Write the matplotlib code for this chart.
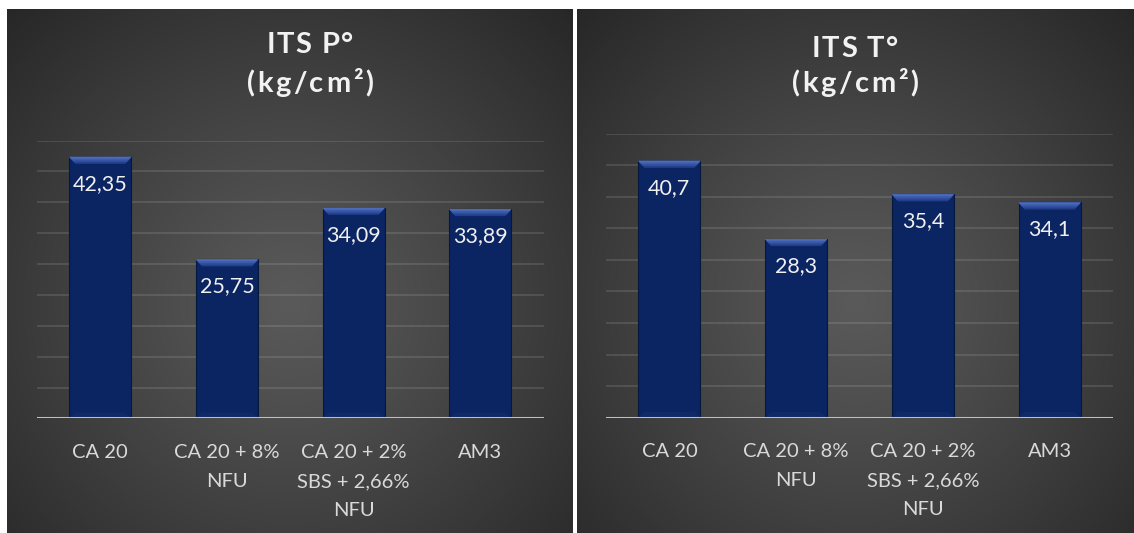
import numpy as np
import matplotlib
matplotlib.use("Agg")
import matplotlib.pyplot as plt
from matplotlib.patches import Polygon
from matplotlib.colors import to_rgb

# data
categories = ["CA 20", "CA 20 + 8%\nNFU", "CA 20 + 2%\nSBS + 2,66%\nNFU", "AM3"]
its_p = [42.35, 25.75, 34.09, 33.89]
its_t = [40.7, 28.3, 35.4, 34.1]
titles = [("ITS P°", "(kg/cm²)"), ("ITS T°", "(kg/cm²)")]

W, H = 1134, 533
FONT = "Lato"
plt.rcParams['font.family'] = [FONT, 'DejaVu Sans']

fig = plt.figure(figsize=(W / 100, H / 100), dpi=100, facecolor="white")


def px_box(x0, y0, x1, y1):
    # pixel box (top-left origin) -> figure fraction rect
    return [x0 / W, (H - y1) / H, (x1 - x0) / W, (y1 - y0) / H]


def background(x0, x1):
    bg = fig.add_axes(px_box(x0, 9, x1, H), zorder=-10)
    u = np.linspace(0, 1, 300)
    v = np.linspace(0, 1, 300)
    U, V = np.meshgrid(u, v)
    r = np.sqrt(((U - 0.5) / 0.72) ** 2 + ((V - 0.56) / 0.78) ** 2)
    r = np.clip(r, 0, 1) ** 1.1
    c0 = np.array(to_rgb("#5a5a5a"))
    c1 = np.array(to_rgb("#272727"))
    img = c0[None, None, :] * (1 - r[..., None]) + c1[None, None, :] * r[..., None]
    bg.imshow(img, aspect="auto", extent=(0, 1, 0, 1))
    bg.axis("off")


def tracked_text(cx, baseline, s, track, **kw):
    r = fig.canvas.get_renderer()

    def w(txt):
        t = fig.text(0, 0, txt, **kw)
        bb = t.get_window_extent(renderer=r)
        t.remove()
        return bb.width

    base = w("||")
    widths = [w("|" + ch + "|") - base for ch in s]
    total = sum(widths) + track * (len(s) - 1)
    x = cx - total / 2
    for ch, cw in zip(s, widths):
        fig.text(x / W, (H - baseline) / H, ch, ha="left", va="baseline", **kw)
        x += cw + track


def panel(box, values, title, title_x, title_base):
    x0, y0, x1, y1 = box
    ax = fig.add_axes(px_box(x0, y0, x1, y1))
    ax.set_facecolor("none")
    xs = np.arange(len(values))
    bars = ax.bar(xs, values, width=0.49, color="#0b2462", edgecolor="#07183f",
                  linewidth=0.8, zorder=3)
    ax.set_xlim(-0.5, len(values) - 0.5)
    ax.set_ylim(0, 45)
    ax.set_yticks(np.arange(0, 46, 5))
    ax.yaxis.grid(True, color="white", alpha=0.13, lw=1.2)
    ax.set_axisbelow(True)
    for s in ax.spines.values():
        s.set_visible(False)
    ax.tick_params(axis="y", length=0, labelleft=False)
    ax.axhline(0, color="#bfbfbf", lw=2.2, zorder=5)
    ax.set_xticks(xs)
    ax.set_xticklabels(categories, color="#d9d9d9", fontsize=14.5, linespacing=1.85)
    ax.tick_params(axis="x", length=0, pad=18.5)

    # bevel on top and bottom of bars
    ppx = 45 / (y1 - y0)
    ppx_x = len(values) / (x1 - x0)
    tops = ["#233f8c", "#2f4f9e", "#3d5cab", "#4c6bb8"]
    for b in bars:
        bx, bw, top = b.get_x(), b.get_width(), b.get_height()
        for k, col in enumerate(tops):
            f = 1 - k / len(tops)
            dy, dx = 7 * ppx * f, 6 * ppx_x * f
            ax.add_patch(Polygon([(bx, top), (bx + bw, top), (bx + bw - dx, top - dy), (bx + dx, top - dy)],
                                 closed=True, facecolor=col, edgecolor="none", zorder=4))
        dy, dx = 6 * ppx, 6 * ppx_x
        ax.add_patch(Polygon([(bx, 0), (bx + bw, 0), (bx + bw - dx, dy), (bx + dx, dy)],
                             closed=True, facecolor="#0e2a68", edgecolor="none", zorder=4))

    for xi, v in zip(xs, values):
        ax.annotate(str(v).replace(".", ","), (xi, v), xytext=(0, -27 * 0.72),
                    textcoords="offset points", ha="center", va="center",
                    color="#f0f0f0", fontsize=15.5, zorder=6)

    tracked_text(title_x, title_base[0], title[0], 1.5, color="#f2f2f2",
                 fontsize=21, fontweight="bold")
    tracked_text(title_x, title_base[1], title[1], 2.5, color="#f2f2f2",
                 fontsize=21, fontweight="bold")
    return ax


background(7, 573)
background(577, W)
panel((37, 140.5, 543.6, 418.4), its_p, titles[0], 310, (53, 92))
panel((606, 133.7, 1113, 417.7), its_t, titles[1], 855, (57, 92))

fig.savefig("out.png", dpi=100, facecolor="white")
